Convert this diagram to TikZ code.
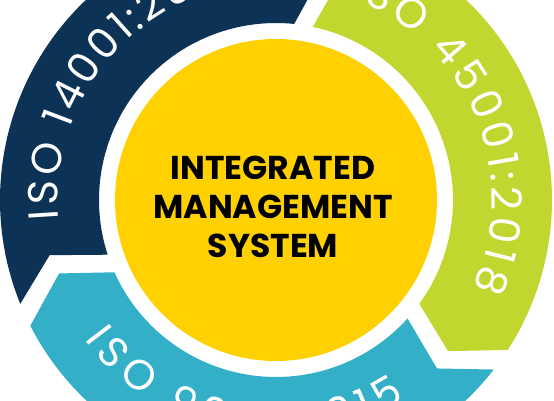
\documentclass[tikz,border=0pt]{standalone}
\usepackage{fontspec}
\setmainfont{Poppins}
\newfontfamily\ringfont{Poppins}
\usetikzlibrary{decorations.text}
\definecolor{isonavy}{RGB}{12,50,85}
\definecolor{isolime}{RGB}{193,214,47}
\definecolor{isoteal}{RGB}{51,176,199}
\definecolor{isogold}{RGB}{255,209,0}
\begin{document}
\begin{tikzpicture}[x=1pt, y=1pt,
  ringtext/.style={decorate, decoration={text along path, text align={fit to path}, text color=white,
    text={|\ringfont\fontsize{42}{44}\selectfont|#1}}}]
\useasboundingbox (-276,-200) rectangle (278,200);
\clip (-276,-200) rectangle (278,200);

% ring segments
\foreach \lo/\hi/\col in {81/201/isonavy, -39/81/isolime, 201/321/isoteal}
  \fill[\col] ({\lo+3.1}:177) arc[start angle=\lo+3.1, end angle=\hi-3, radius=177]
    -- ({\hi-7.3}:233) -- ({\hi+1.1}:276)
    arc[start angle=\hi+1.1, end angle=\lo+6.1, radius=276]
    -- ({\lo-2.3}:229) -- cycle;

% centre
\node[circle, fill=isogold, minimum size=322pt, inner sep=0pt] (core) at (0,0) {};
\node[font=\bfseries\fontsize{33}{39}\selectfont, align=center] (ims)
  at ([xshift=-3pt, yshift=-7pt]core.center) {INTEGRATED\\MANAGEMENT\\SYSTEM};

% ring labels
\path[ringtext={ISO 14001:2015}] (185:218) arc[start angle=185, end angle=100, radius=218];
\path[ringtext={ISO 45001:2018}] (70:216) arc[start angle=70, end angle=-24, radius=216];
\path[ringtext={ISO 9001:2015}] (216:237) arc[start angle=216, end angle=303, radius=237];
\end{tikzpicture}
\end{document}
